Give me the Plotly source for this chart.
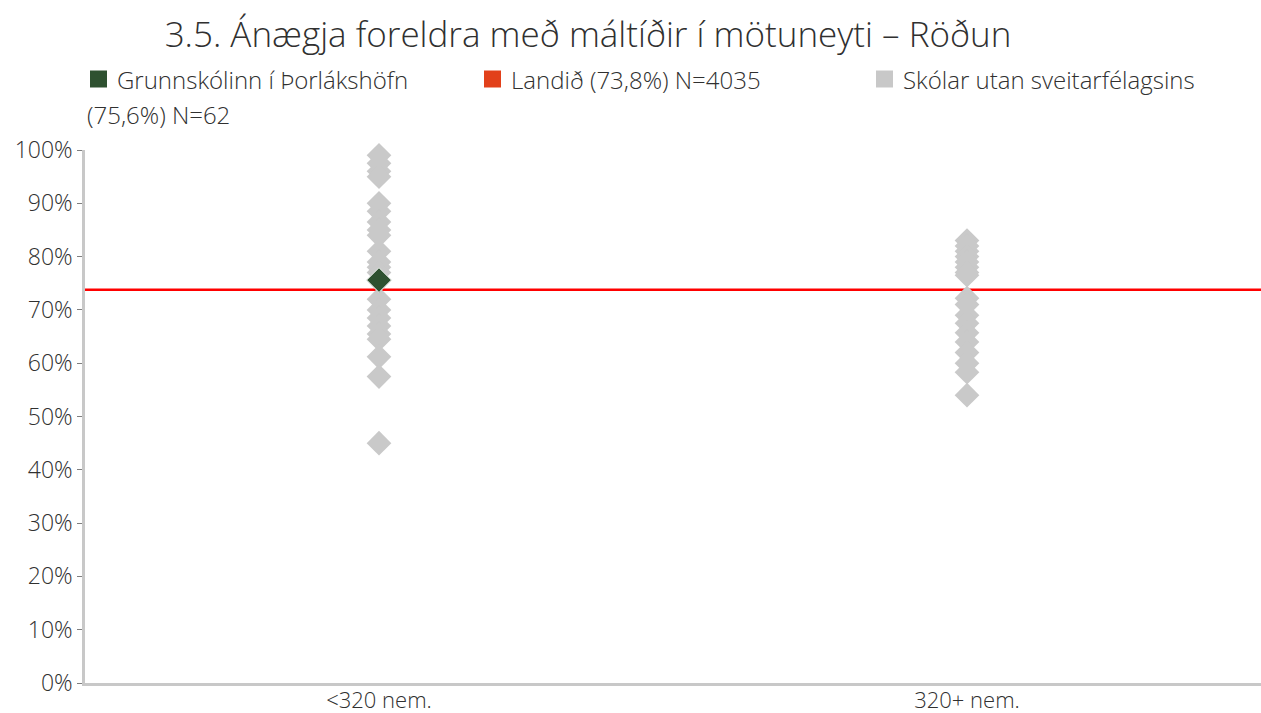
import plotly.graph_objects as go

# Figure geometry (pixels)
W, H = 1261, 713
M_L, M_R, M_T, M_B = 85, 0, 150, 30
PLOT_W, PLOT_H = W - M_L - M_R, H - M_T - M_B

# ---- data ----
categories = ["<320 nem.", "320+ nem."]
small_schools = [99.0, 97.5, 96.0, 95.0, 90.0, 88.5, 86.5, 85.0, 84.0, 81.0, 79.0,
                 78.0, 77.0, 75.5, 72.0, 70.0, 68.5, 67.0, 65.5, 64.5, 61.2, 57.5, 45.0]
large_schools = [83.0, 82.0, 81.0, 80.0, 79.0, 78.0, 77.0, 76.5, 72.2, 71.0, 69.0,
                 67.5, 65.7, 64.0, 62.0, 60.0, 58.3, 54.0]
school_value = 75.6        # Grunnskólinn í Þorlákshöfn
school_category = "<320 nem."
national_value = 73.8      # Landið

legend_items = [
    ("Grunnskólinn í Þorlákshöfn", "(75,6%) N=62", "#2e5130", 90),
    ("Landið (73,8%) N=4035", None, "#e2401a", 484),
    ("Skólar utan sveitarfélagsins", None, "#c8c8c8", 876),
]

FONT = "Open Sans"
WEIGHT = 300
TEXT_COLOR = "#303030"
GREY = "#c9c9c9"


def px_x(px):
    return (px - M_L) / PLOT_W


def px_y(py):
    return (H - M_B - py) / PLOT_H


def font(size):
    return dict(family=FONT, size=size, color=TEXT_COLOR, weight=WEIGHT)


fig = go.Figure()

# Other schools, grouped by school size
fig.add_trace(go.Scatter(
    x=[categories[0]] * len(small_schools) + [categories[1]] * len(large_schools),
    y=[v / 100 for v in small_schools + large_schools],
    mode="markers",
    marker=dict(symbol="diamond", size=19, color=GREY, line=dict(width=0)),
    cliponaxis=False, showlegend=False, hoverinfo="y",
))

# The school itself
fig.add_trace(go.Scatter(
    x=[school_category], y=[school_value / 100],
    mode="markers",
    marker=dict(symbol="diamond", size=19, color="#2e5130",
                line=dict(width=1, color="#e8ece8")),
    cliponaxis=False, showlegend=False, hoverinfo="y",
))

# National average as a horizontal line across the plot
fig.add_shape(type="line", xref="paper", yref="y", x0=0, x1=1,
              y0=national_value / 100, y1=national_value / 100,
              line=dict(color="#ff0000", width=2.5), layer="below")

# Custom legend: square swatches with labels
annotations = []
for label, line2, color, sx in legend_items:
    cy = 79
    fig.add_shape(type="rect", xref="paper", yref="paper",
                  x0=px_x(sx), x1=px_x(sx + 17), y0=px_y(cy + 8.5), y1=px_y(cy - 8.5),
                  fillcolor=color, line=dict(width=0))
    annotations.append(dict(
        xref="paper", yref="paper", x=px_x(sx + 25), y=px_y(cy),
        xanchor="left", yanchor="middle", showarrow=False, text=label,
        font=font(24)))
    if line2:
        annotations.append(dict(
            xref="paper", yref="paper", x=px_x(sx - 5), y=px_y(cy + 35),
            xanchor="left", yanchor="middle", showarrow=False, text=line2,
            font=font(24)))

fig.update_layout(
    width=W, height=H,
    margin=dict(l=M_L, r=M_R, t=M_T, b=M_B, pad=0, autoexpand=False),
    paper_bgcolor="white", plot_bgcolor="white",
    font=dict(family=FONT, color=TEXT_COLOR),
    title=dict(text="3.5. Ánægja foreldra með máltíðir í mötuneyti – Röðun",
               x=588 / W, xref="container", xanchor="center",
               y=1 - 35 / H, yref="container", yanchor="middle",
               font=font(35)),
    showlegend=False,
    annotations=annotations,
    xaxis=dict(type="category", categoryorder="array", categoryarray=categories,
               range=[-0.5, 1.5], showline=True, linecolor="#c8c8c8", linewidth=3,
               ticks="", showgrid=False, zeroline=False, automargin=False,
               ticklabelstandoff=-4, tickfont=font(22)),
    yaxis=dict(range=[0, 1], dtick=0.1, tickformat=".0%", showline=True,
               linecolor="#c8c8c8", linewidth=2.5, ticks="outside", ticklen=5,
               tickcolor="#7f7f7f", showgrid=False, zeroline=False, automargin=False,
               tickfont=font(23)),
)

fig.write_html("out.html")
